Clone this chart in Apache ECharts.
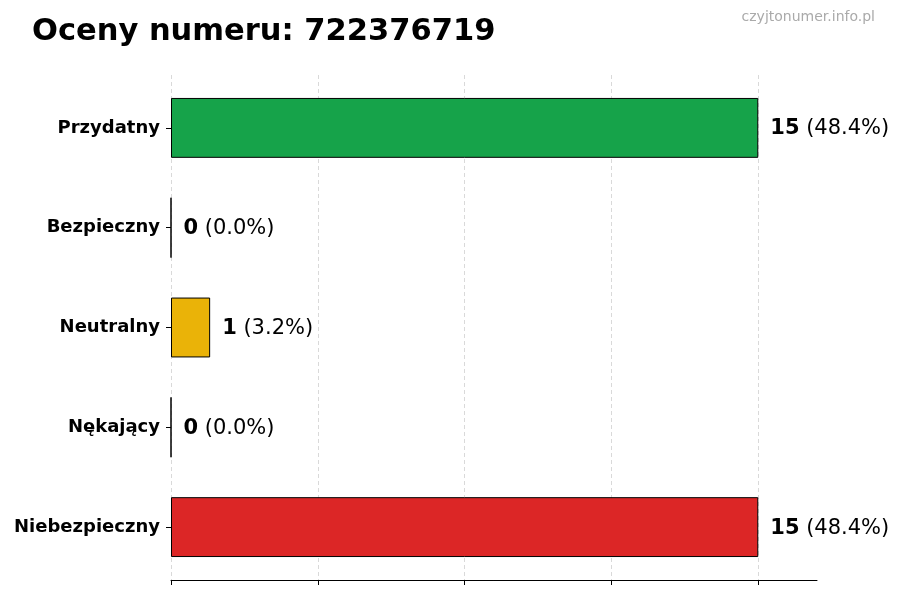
<!DOCTYPE html>
<html>
<head>
<meta charset="utf-8">
<script src="https://cdn.jsdelivr.net/npm/echarts@6/dist/echarts.min.js"></script>
<style>
  html, body { margin: 0; padding: 0; background: #fff; }
  #chart { width: 900px; height: 600px; }
</style>
</head>
<body>
<div id="chart"></div>
<script>
// dane wykresu
var categories = ['Przydatny', 'Bezpieczny', 'Neutralny', 'Nękający', 'Niebezpieczny']
var counts = [15, 0, 1, 0, 15]
var barColors = ['#16a34a', '#2563eb', '#eab308', '#f97316', '#dc2626']
var gridTicks = [0, 3.75, 7.5, 11.25, 15]

var total = counts.reduce(function (a, b) { return a + b }, 0)
var font = '"DejaVu Sans", sans-serif'

var myChart = echarts.init(document.getElementById('chart'))

myChart.setOption({
  animation: false,
  backgroundColor: '#fff',
  title: [{
    text: 'Oceny numeru: 722376719',
    left: 27,
    top: 12,
    textStyle: { fontFamily: font, fontSize: 30.5, fontWeight: 'bold', color: '#000' }
  }, {
    text: 'czyjtonumer.info.pl',
    right: 20,
    top: 5,
    textStyle: { fontFamily: font, fontSize: 14, fontWeight: 'normal', color: '#aaa' }
  }],
  grid: [
    // słupki
    { left: 171, right: 83, top: 78, bottom: 23 },
    // linie siatki do 15
    { left: 171, right: 142, top: 75, bottom: 20 }
  ],
  xAxis: [{
    gridIndex: 0,
    type: 'value',
    min: 0,
    max: 16.5,
    offset: 3,
    axisLine: { show: true, lineStyle: { color: '#000', width: 1 } },
    axisTick: { show: false },
    axisLabel: { show: false },
    splitLine: { show: false }
  }, {
    gridIndex: 1,
    type: 'value',
    min: gridTicks[0],
    max: gridTicks[gridTicks.length - 1],
    interval: gridTicks[1] - gridTicks[0],
    axisLine: { show: false },
    axisTick: { show: true, length: 5, lineStyle: { color: '#000', width: 1 } },
    axisLabel: { show: false },
    splitLine: { show: true, lineStyle: { color: '#cfcfcf', width: 0.8, type: [4, 3] } }
  }],
  yAxis: [{
    gridIndex: 0,
    type: 'category',
    data: categories,
    inverse: true,
    axisLine: { show: false },
    axisTick: { show: true, length: 5, alignWithLabel: true, lineStyle: { color: '#000' } },
    axisLabel: { margin: 11, padding: [3, 0, 0, 0], fontFamily: font, fontSize: 18, fontWeight: 'bold', color: '#000' },
    splitLine: { show: false }
  }, {
    gridIndex: 1,
    type: 'value',
    show: false
  }],
  series: [{
    type: 'bar',
    xAxisIndex: 0,
    yAxisIndex: 0,
    barWidth: '60%',
    data: counts.map(function (v, i) {
      return { value: v, itemStyle: { color: barColors[i] } }
    }),
    itemStyle: { borderColor: '#000', borderWidth: 1 },
    label: {
      show: true,
      position: 'right',
      distance: 12,
      offset: [0, 1],
      formatter: function (p) {
        var pct = (p.value / total * 100).toFixed(1)
        return '{b|' + p.value + '}  {n|(' + pct + '%)}'
      },
      rich: {
        b: { fontFamily: font, fontSize: 21, fontWeight: 'bold', color: '#000' },
        n: { fontFamily: font, fontSize: 21, fontWeight: 'normal', color: '#000' }
      }
    }
  }]
})
</script>
</body>
</html>
